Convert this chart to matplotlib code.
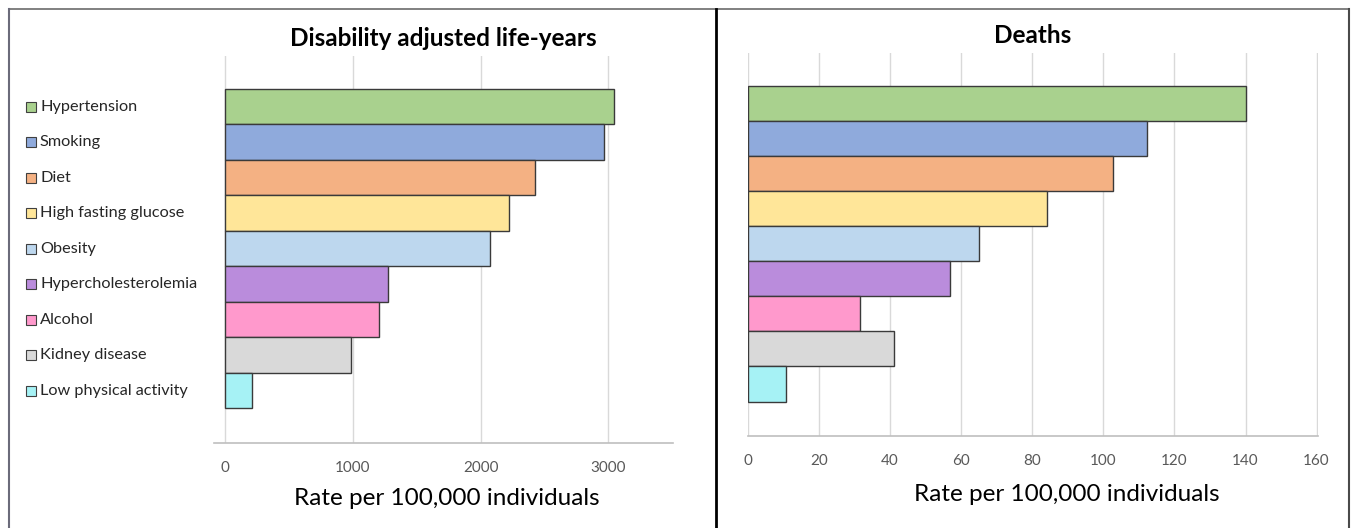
import matplotlib.pyplot as plt
from matplotlib.lines import Line2D
import matplotlib.transforms as mtransforms
import numpy as np

plt.rcParams['font.family'] = ['Lato', 'DejaVu Sans']

factors = ['Hypertension', 'Smoking', 'Diet', 'High fasting glucose', 'Obesity',
           'Hypercholesterolemia', 'Alcohol', 'Kidney disease', 'Low physical activity']
daly = [3045, 2965, 2430, 2220, 2075, 1275, 1205, 985, 205]
deaths = [140.2, 112.4, 102.8, 84.0, 65.0, 56.9, 31.5, 41.0, 10.7]
colors = ['#A9D18E', '#8FAADC', '#F4B183', '#FFE699', '#BDD7EE',
          '#BA8CDC', '#FF99CC', '#D9D9D9', '#A6F2F5']

daly_ticks = [0, 1000, 2000, 3000]
death_ticks = [0, 20, 40, 60, 80, 100, 120, 140, 160]

fig = plt.figure(figsize=(13.52, 5.28), dpi=100)
W, H = 1352, 528

ax1 = fig.add_axes([214 / W, 1 - 443 / H, (673 - 214) / W, (443 - 56) / H])
ax2 = fig.add_axes([748 / W, 1 - 436 / H, (1318 - 748) / W, (436 - 53) / H])

ypos = np.arange(len(factors))[::-1]


def style_axis(ax, values, ticks, xlim, title, label_x, label_y):
    ax.barh(ypos, values, height=1.0, color=colors, edgecolor='#3a3a3a',
            linewidth=1.0, zorder=3)
    ax.set_xlim(*xlim)
    ax.set_ylim(-1.48, len(factors) - 0.5 + 0.93)
    ax.set_xticks(ticks)
    ax.set_yticks([])
    ax.grid(axis='x', color='#D9D9D9', linewidth=1.0, zorder=0)
    for s in ['top', 'right', 'left']:
        ax.spines[s].set_visible(False)
    ax.spines['bottom'].set_color('#BFBFBF')
    ax.spines['bottom'].set_linewidth(1.2)
    ax.tick_params(axis='x', length=0, pad=13, labelsize=11, labelcolor='#595959')
    ax.set_title(title, fontsize=17.5, fontweight='bold', pad=7)
    ax.set_xlabel('Rate per 100,000 individuals', fontsize=17.5)
    ax.xaxis.set_label_coords(label_x, label_y)


style_axis(ax1, daly, daly_ticks, (-89, 3508), 'Disability adjusted life-years', 0.508, -0.115)
style_axis(ax2, deaths, death_ticks, (0, 160.4), 'Deaths', 0.56, -0.125)

# legend as labels aligned with bars
trans = mtransforms.blended_transform_factory(fig.transFigure, ax1.transData)
for y, name, c in zip(ypos, factors, colors):
    ax1.plot([31 / W], [y], marker='s', markersize=7.5, markerfacecolor=c,
             markeredgecolor='#404040', markeredgewidth=0.8, transform=trans,
             clip_on=False, linestyle='none')
    ax1.text(40 / W, y, name, transform=trans, fontsize=11.7, va='center', ha='left',
             color='#262626')

# panel borders
fig.add_artist(Line2D([8.5 / W, 1349 / W], [1 - 8.5 / H, 1 - 8.5 / H], color='#6b6b6b', lw=1.2))
fig.add_artist(Line2D([8.5 / W, 8.5 / W], [0, 1 - 8.5 / H], color='#6b6b7a', lw=1.5))
fig.add_artist(Line2D([1349 / W, 1349 / W], [0, 1 - 8.5 / H], color='#4a4a4a', lw=1.5))
fig.add_artist(Line2D([715.5 / W, 715.5 / W], [0, 1 - 8.5 / H], color='black', lw=2))

fig.savefig('out.png', dpi=100)
